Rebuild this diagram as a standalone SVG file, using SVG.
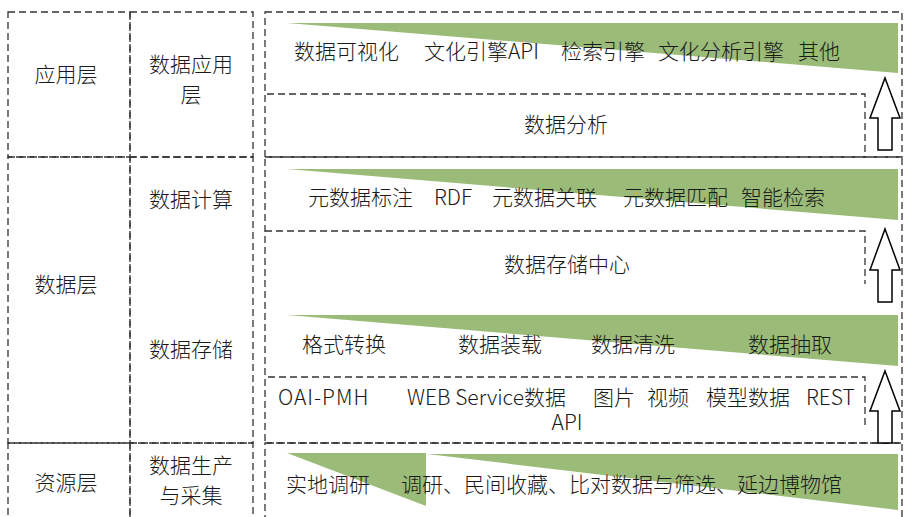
<svg xmlns="http://www.w3.org/2000/svg" width="905" height="517" viewBox="0 0 905 517">
<style>
.d{fill:none;stroke:#333;stroke-width:1.3;stroke-dasharray:7 4}
.g{fill:#9bbb78;stroke:none}
.a{fill:#fff;stroke:#000;stroke-width:1.5;stroke-linejoin:miter}
text{font-family:"Noto Sans CJK SC","Noto Sans",sans-serif;font-size:21px;font-weight:300;fill:#1a1a1a}
.m{text-anchor:middle}
</style>
<rect width="905" height="517" fill="#fff"/>
<g id="left-table">
<rect class="d" x="8" y="12" width="122" height="145"/>
<rect class="d" x="130" y="12" width="123" height="145"/>
<rect class="d" x="8" y="157" width="122" height="286"/>
<rect class="d" x="130" y="157" width="123" height="286"/>
<rect class="d" x="8" y="443" width="122" height="90"/>
<rect class="d" x="130" y="443" width="123" height="90"/>
</g>
<g id="layer-app">
<text class="m" x="66" y="82">应用层</text>
<text class="m" x="191" y="72">数据应用</text>
<text class="m" x="191" y="102">层</text>
</g>
<g id="layer-data">
<text class="m" x="66" y="292">数据层</text>
<text class="m" x="191" y="207">数据计算</text>
<text class="m" x="191" y="357">数据存储</text>
</g>
<g id="layer-resource">
<text class="m" x="66" y="490">资源层</text>
<text class="m" x="191" y="473">数据生产</text>
<text class="m" x="191" y="503">与采集</text>
</g>
<g id="panel-app">
<rect class="d" x="265" y="12" width="637" height="145"/>
<polygon class="g" points="287,23 898,23 898,73"/>
<text x="294" y="59">数据可视化</text>
<text x="424" y="59">文化引擎API</text>
<text x="561" y="59">检索引擎</text>
<text x="658" y="59">文化分析引擎</text>
<text x="798" y="59">其他</text>
</g>
<g id="box-analysis">
<path class="d" d="M267,94 H865 V157"/>
<text class="m" x="566" y="132">数据分析</text>
</g>
<g id="panel-data">
<rect class="d" x="265" y="157" width="637" height="286"/>
<polygon class="g" points="287,169 898,169 898,220"/>
<text x="308" y="205">元数据标注</text>
<text x="434" y="205">RDF</text>
<text x="492" y="205">元数据关联</text>
<text x="623" y="205">元数据匹配</text>
<text x="741" y="205">智能检索</text>
</g>
<g id="box-storage-center">
<path class="d" d="M265,231 H865 V284"/>
<text class="m" x="567" y="272">数据存储中心</text>
</g>
<g id="storage-ops">
<polygon class="g" points="287,315 898,315 898,366"/>
<text x="302" y="352">格式转换</text>
<text x="458" y="352">数据装载</text>
<text x="591" y="352">数据清洗</text>
<text x="748" y="352">数据抽取</text>
</g>
<g id="box-sources">
<path class="d" d="M268,377 H865 V427"/>
<text x="278" y="405" letter-spacing="1">OAI-PMH</text>
<text x="407" y="405">WEB Service数据</text>
<text x="593" y="405">图片</text>
<text x="647" y="405">视频</text>
<text x="706" y="405">模型数据</text>
<text x="806" y="405">REST</text>
<text class="m" x="567" y="430">API</text>
</g>
<g id="panel-resource">
<rect class="d" x="265" y="443" width="637" height="90"/>
<polygon class="g" points="287,453 426,453 426,506"/>
<polygon class="g" points="427,454 898,454 898,510"/>
<text x="286" y="492">实地调研</text>
<text x="401" y="492">调研、民间收藏、比对数据与筛选、延边博物馆</text>
</g>
<g id="connectors">
<polygon class="a" points="885,78 900,118 892,118 892,150 878,150 878,118 870,118"/>
<polygon class="a" points="885,229 900,270 892,270 892,302 878,302 878,270 870,270"/>
<polygon class="a" points="885,371 900,411 892,411 892,443 878,443 878,411 870,411"/>
</g>
</svg>
